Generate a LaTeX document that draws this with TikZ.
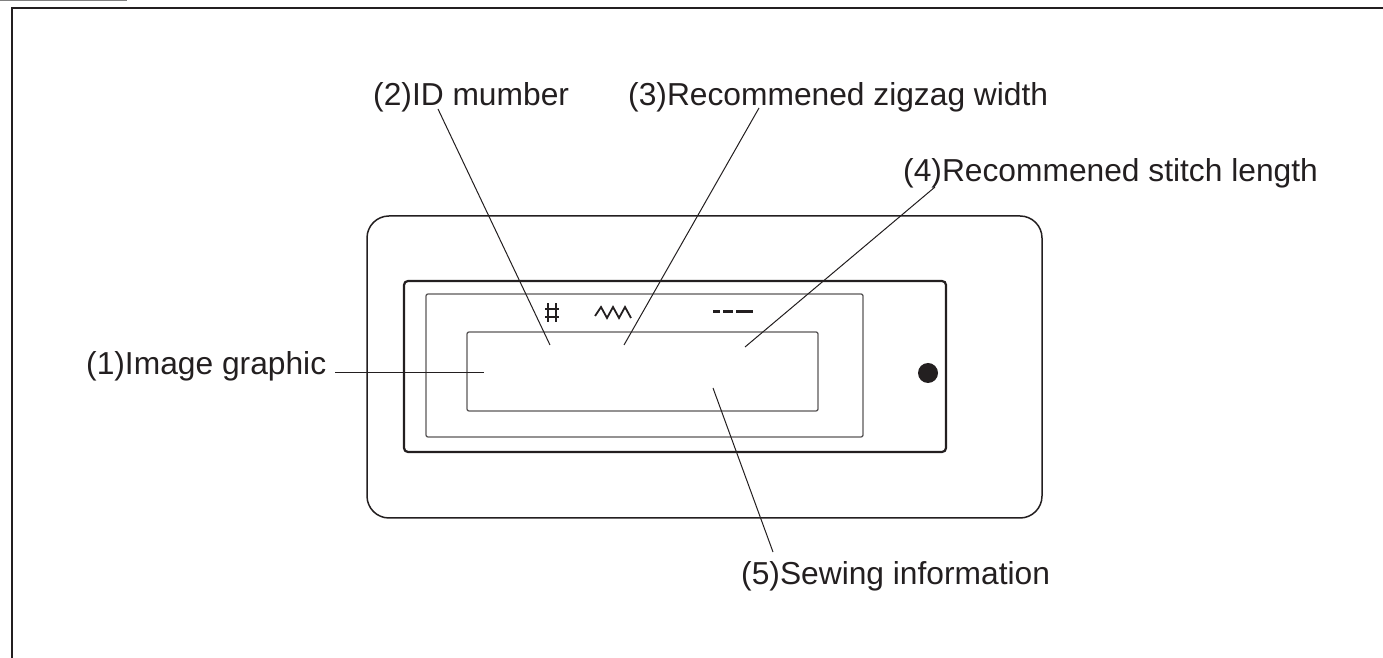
\documentclass[tikz,border=0pt]{standalone}
\usepackage{fontspec}
\setmainfont{Liberation Sans}
\usetikzlibrary{calc}
\definecolor{ink}{HTML}{231F20}

\begin{document}
\begin{tikzpicture}[
        x=1pt, y=1pt,
        callout/.style={anchor=base west, inner sep=0pt, text=ink, font=\fontsize{31.75}{38}\selectfont},
        leader/.style={draw=ink, line width=1pt},
        panel/.style={draw=ink, line width=1.5pt, rounded corners=22pt},
        bezel/.style={draw=ink, line width=2.2pt, rounded corners=4pt},
        window/.style={draw=ink!75, line width=1.3pt, rounded corners=2pt},
        glyph/.style={draw=ink, line width=2.4pt}
    ]
        \useasboundingbox (0,0) rectangle (1383,658);

        % Page frame
        \draw [gray, line width=1pt] (0,657.5) -- (127,657.5);
        \draw [ink, line width=2pt] (1383,650) -- (12,650) -- (12,0);

        % Display unit
        \draw [panel] (367,140) rectangle (1042,442);
        \draw [bezel] (404,206) rectangle (946,377);
        \draw [window] (426,221) rectangle (863,364);
        \draw [window] (467,247) rectangle (818,326);
        \fill [ink] (928,285) circle (10);

        % Symbols above the screen
        \draw [glyph] (548,336) -- (548,355) (556,336) -- (556,355) (545,349) -- (559,349) (545,341) -- (559,341);
        \draw [glyph, line width=1.8pt] (595,342) -- (601,351) -- (607,340) -- (613,351) -- (619,340) -- (625,351) -- (631,340);
        \draw [glyph, line width=3pt] (713,346) -- (720,346) (723,346) -- (733,346) (736,346) -- (753,346);

        % Labels
        \node (img) [callout] at (86,283) {(1)Image graphic};
        \node (idnum) [callout] at (373,552) {(2)ID mumber};
        \node (zigzag) [callout] at (628,552) {(3)Recommened zigzag width};
        \node (stitch) [callout] at (903,476) {(4)Recommened stitch length};
        \node (sewing) [callout] at (741,73) {(5)Sewing information};

        % Points on the screen
        \coordinate (imgP) at (484,285);
        \coordinate (idnumP) at (550,313);
        \coordinate (zigzagP) at (624,313);
        \coordinate (stitchP) at (745,311);
        \coordinate (sewingP) at (713,270);

        % Leaders
        \draw [leader] ($(img.base east)+(9,2)$) -- (imgP);
        \draw [leader] ($(idnum.base west)+(65,-3)$) -- (idnumP);
        \draw [leader] ($(zigzag.base west)+(131,-2)$) -- (zigzagP);
        \draw [leader] ($(stitch.base west)+(32,-5)$) -- (stitchP);
        \draw [leader] ($(sewing.base west)+(32,33)$) -- (sewingP);

    \end{tikzpicture}
\end{document}
